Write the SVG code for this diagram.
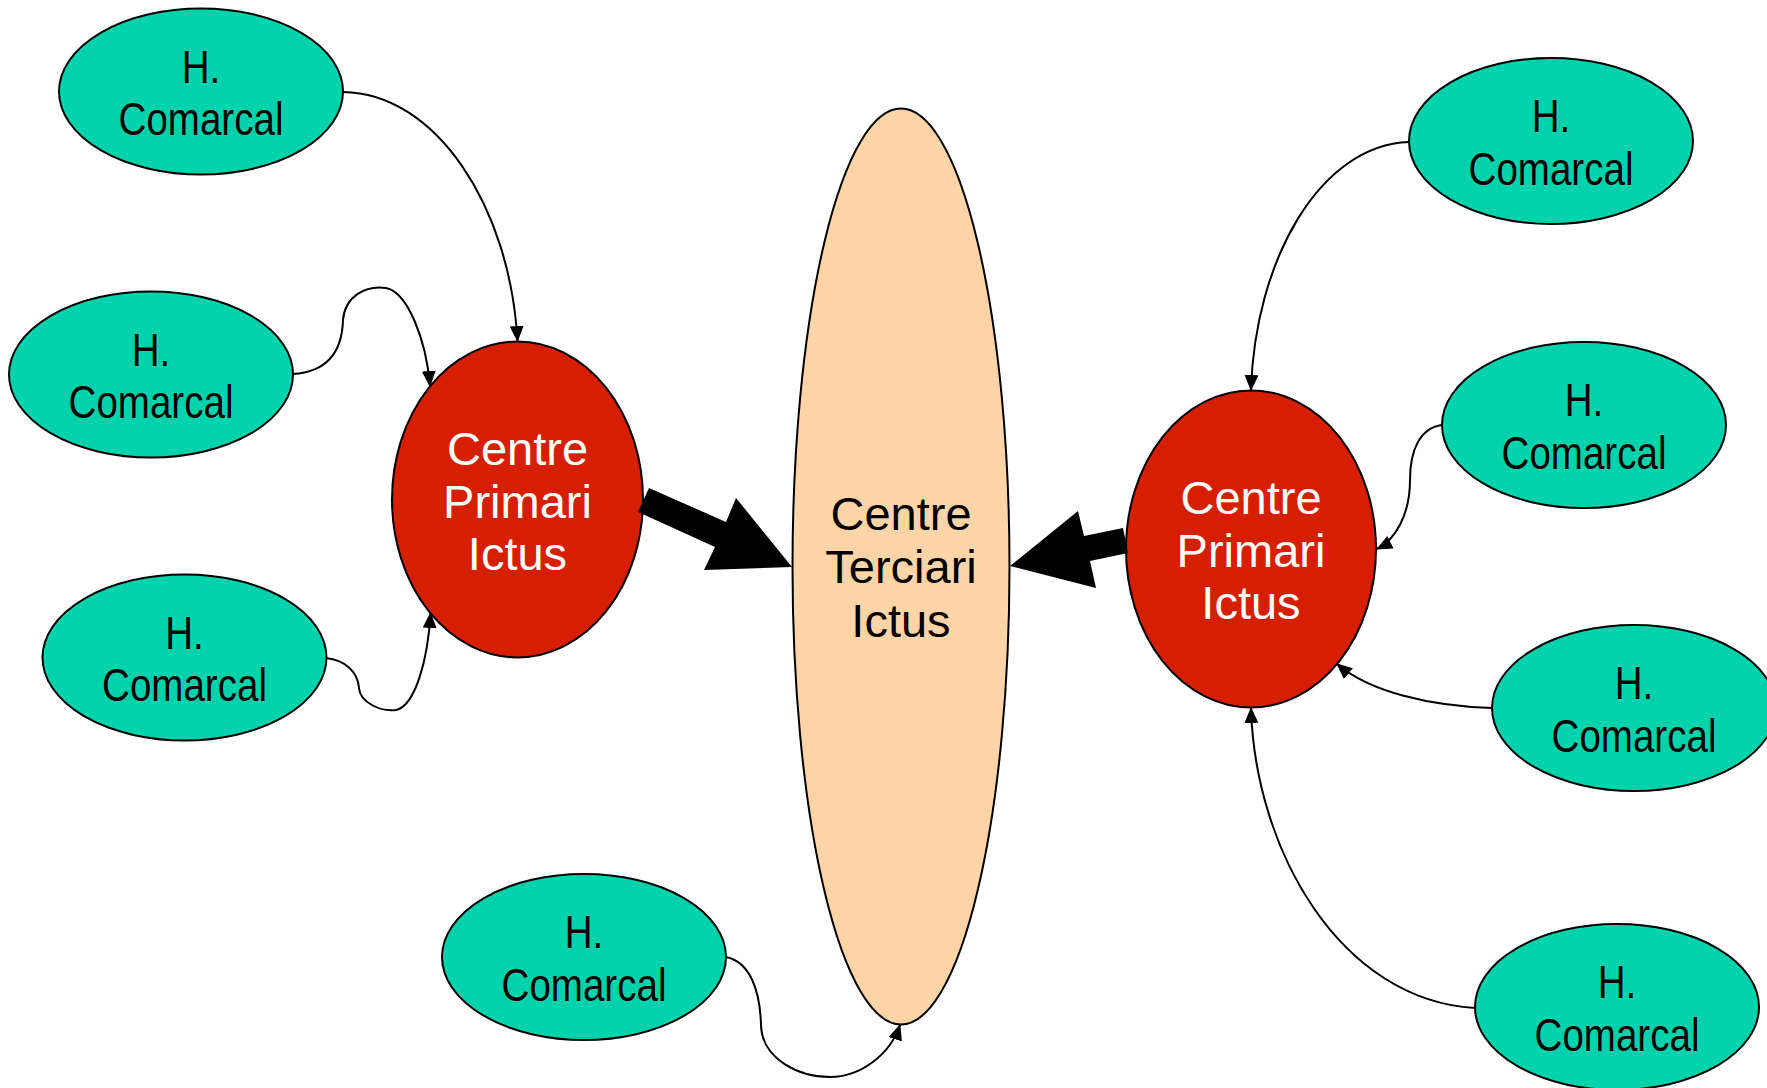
<svg xmlns="http://www.w3.org/2000/svg" width="1767" height="1088" viewBox="0 0 1767 1088">
<style>
.hc{fill:#00D2AC;stroke:#000;stroke-width:2}
.cp{fill:#D61F00;stroke:#000;stroke-width:2}
.ct{fill:#FFD5A8;stroke:#000;stroke-width:2}
.lbl{font-family:"Liberation Sans",Arial,sans-serif;font-size:47px;text-anchor:middle}
.bk{fill:#000}
.wh{fill:#fff}
.con{fill:none;stroke:#000;stroke-width:2;marker-end:url(#ah)}
.big{fill:#000;stroke:none}
</style>
<defs>
<marker id="ah" viewBox="0 0 16 14" refX="15" refY="7" markerWidth="16" markerHeight="14" markerUnits="userSpaceOnUse" orient="auto">
<path d="M0,0 L16,7 L0,14 z" fill="#000"/>
</marker>
</defs>
<rect width="1767" height="1088" fill="#fff"/>

<g id="terciari">
<ellipse class="ct" cx="901" cy="566.5" rx="108.5" ry="458"/>
<text class="lbl bk" x="901" y="530">Centre</text>
<text class="lbl bk" x="901" y="583">Terciari</text>
<text class="lbl bk" x="901" y="637">Ictus</text>
</g>

<g id="primari-left">
<ellipse class="cp" cx="517.5" cy="499.5" rx="125.5" ry="158"/>
<text class="lbl wh" x="517.5" y="464.5">Centre</text>
<text class="lbl wh" x="517.5" y="517.5">Primari</text>
<text class="lbl wh" x="517.5" y="570">Ictus</text>
</g>

<g id="primari-right">
<ellipse class="cp" cx="1251" cy="549" rx="125" ry="158.5"/>
<text class="lbl wh" x="1251" y="514">Centre</text>
<text class="lbl wh" x="1251" y="567">Primari</text>
<text class="lbl wh" x="1251" y="619">Ictus</text>
</g>

<g id="hc-l1">
<ellipse class="hc" cx="201" cy="91.5" rx="142" ry="83"/>
<g transform="translate(201 91.5) scale(0.82 1)"><text class="lbl bk" x="0" y="-9">H.</text><text class="lbl bk" x="0" y="44">Comarcal</text></g>
</g>
<g id="hc-l2">
<ellipse class="hc" cx="151" cy="374.5" rx="142" ry="83"/>
<g transform="translate(151 374.5) scale(0.82 1)"><text class="lbl bk" x="0" y="-9">H.</text><text class="lbl bk" x="0" y="44">Comarcal</text></g>
</g>
<g id="hc-l3">
<ellipse class="hc" cx="184.5" cy="657.5" rx="142" ry="83"/>
<g transform="translate(184.5 657.5) scale(0.82 1)"><text class="lbl bk" x="0" y="-9">H.</text><text class="lbl bk" x="0" y="44">Comarcal</text></g>
</g>
<g id="hc-b">
<ellipse class="hc" cx="584" cy="957" rx="142" ry="83"/>
<g transform="translate(584 957) scale(0.82 1)"><text class="lbl bk" x="0" y="-9">H.</text><text class="lbl bk" x="0" y="44">Comarcal</text></g>
</g>
<g id="hc-r1">
<ellipse class="hc" cx="1551" cy="141" rx="142" ry="83"/>
<g transform="translate(1551 141) scale(0.82 1)"><text class="lbl bk" x="0" y="-9">H.</text><text class="lbl bk" x="0" y="44">Comarcal</text></g>
</g>
<g id="hc-r2">
<ellipse class="hc" cx="1584" cy="425" rx="142" ry="83"/>
<g transform="translate(1584 425) scale(0.82 1)"><text class="lbl bk" x="0" y="-9">H.</text><text class="lbl bk" x="0" y="44">Comarcal</text></g>
</g>
<g id="hc-r3">
<ellipse class="hc" cx="1634" cy="708" rx="142" ry="83"/>
<g transform="translate(1634 708) scale(0.82 1)"><text class="lbl bk" x="0" y="-9">H.</text><text class="lbl bk" x="0" y="44">Comarcal</text></g>
</g>
<g id="hc-r4">
<ellipse class="hc" cx="1617" cy="1007" rx="142" ry="83"/>
<g transform="translate(1617 1007) scale(0.82 1)"><text class="lbl bk" x="0" y="-9">H.</text><text class="lbl bk" x="0" y="44">Comarcal</text></g>
</g>

<g id="connectors">
<path class="con" d="M343,92 C435,93 510,205 517.5,341"/>
<path class="con" d="M293,374 C325,372 342,355 343,320 C345,296 366,285 386,288 C407,292 426,338 430,386"/>
<path class="con" d="M326,658 C345,660 358,672 359,688 C360,702 380,712 396,710 C415,706 428,660 430.5,613"/>
<path class="con" d="M726,957 C750,962 760,990 761,1025 C762,1060 800,1077 830,1077 C860,1077 890,1055 900,1025"/>
<path class="con" d="M1409,142 C1320,145 1255,260 1251,390"/>
<path class="con" d="M1442,425 C1420,428 1410,450 1410,480 C1410,515 1395,540 1377,549"/>
<path class="con" d="M1492,708 C1430,706 1370,692 1337,664"/>
<path class="con" d="M1475,1008 C1340,1000 1255,850 1251,708"/>
<polygon class="big" points="649,488 726,522 736,498 792,567 704,570 715,547 638,512"/>
<polygon class="big" points="1010,566 1078,511 1084,536 1123,528 1128,553 1090,561 1096,588"/>
</g>
</svg>
